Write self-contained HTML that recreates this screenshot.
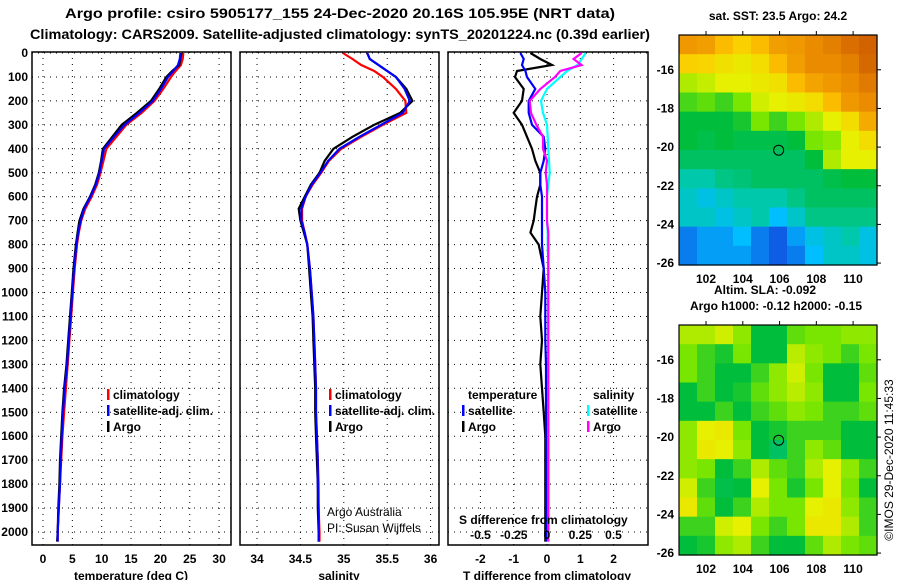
<!DOCTYPE html>
<html><head><meta charset="utf-8"><style>
html,body{margin:0;padding:0;background:#fff;}
svg{display:block;font-family:"Liberation Sans",sans-serif;}
.b{font-weight:bold;font-size:14px;}
.t{font-weight:bold;font-size:12px;}
</style></head><body>
<svg id="c" width="900" height="580" viewBox="0 0 900 580">
<text class="b" x="65" y="18" textLength="550" lengthAdjust="spacingAndGlyphs">Argo profile: csiro 5905177_155 24-Dec-2020 20.16S 105.95E (NRT data)</text>
<text class="b" x="30" y="39" textLength="620" lengthAdjust="spacingAndGlyphs">Climatology: CARS2009. Satellite-adjusted climatology: synTS_20201224.nc (0.39d earlier)</text>
<g id="g"></g>
</svg>
<script>
const depths=[0,25,50,75,100,150,200,250,300,350,400,450,500,550,600,650,700,750,800,900,1000,1100,1200,1300,1400,1500,1600,1700,1800,1900,2000,2040];
const tArgo=[23.6,23.4,23.2,22.0,21.0,19.8,18.4,16.0,13.4,11.8,10.2,9.9,9.5,8.9,8.0,6.9,6.2,5.9,5.6,5.2,4.9,4.6,4.3,4.0,3.6,3.3,3.1,2.9,2.8,2.6,2.5,2.4];
const tClim=[23.9,23.8,23.5,22.6,21.8,20.5,19.0,16.8,14.2,12.5,10.8,10.3,9.8,9.2,8.3,7.2,6.5,6.1,5.8,5.4,5.1,4.8,4.5,4.2,3.9,3.6,3.3,3.1,2.9,2.7,2.5,2.5];
const tSat=[23.4,23.3,23.0,22.2,21.3,20.1,18.7,16.4,13.9,12.1,10.4,10.0,9.6,9.0,8.1,7.0,6.4,6.0,5.7,5.3,5.0,4.7,4.4,4.1,3.7,3.4,3.2,3.0,2.9,2.7,2.5,2.5];
const sArgo=[35.27,35.3,35.4,35.5,35.6,35.72,35.79,35.65,35.35,35.1,34.88,34.78,34.72,34.62,34.55,34.48,34.5,34.54,34.58,34.6,34.62,34.64,34.65,34.66,34.67,34.67,34.68,34.69,34.7,34.7,34.71,34.71];
const sClim=[34.99,35.1,35.2,35.35,35.45,35.6,35.71,35.72,35.45,35.2,34.97,34.83,34.74,34.64,34.56,34.52,34.52,34.55,34.58,34.61,34.63,34.65,34.66,34.67,34.68,34.68,34.69,34.7,34.71,34.71,34.72,34.72];
const sSat=[35.27,35.3,35.4,35.5,35.6,35.7,35.76,35.68,35.43,35.18,34.95,34.82,34.73,34.63,34.56,34.51,34.51,34.55,34.58,34.61,34.63,34.65,34.66,34.67,34.68,34.68,34.69,34.7,34.7,34.71,34.71,34.71];
const dTArgo=[-0.5,-0.2,0.15,-0.9,-0.96,-0.7,-0.75,-1.0,-0.75,-0.6,-0.45,-0.35,-0.2,-0.2,-0.3,-0.35,-0.4,-0.5,-0.25,-0.1,-0.15,-0.2,-0.15,-0.2,-0.15,-0.1,-0.05,-0.05,-0.05,-0.05,-0.05,-0.05];
const dTSat=[-0.8,-0.7,-0.75,-0.65,-0.6,-0.35,-0.55,-0.55,-0.45,-0.1,-0.05,-0.1,-0.2,-0.2,-0.15,-0.15,-0.15,-0.15,-0.15,-0.1,-0.05,-0.05,-0.05,-0.03,-0.03,-0.03,-0.03,-0.02,-0.02,-0.02,-0.02,-0.02];
const dSSat=[0.29,0.26,0.23,0.15,0.1,0,-0.045,-0.03,0,0.005,0.01,0.015,0.02,0.01,0,0,0,0.005,0.005,0.01,0.01,0.01,0.01,0.01,0.01,0.01,0.01,0.01,0.01,0.01,0.01,0.01];
const dSArgo=[0.26,0.2,0.26,0.1,0.06,-0.05,-0.13,-0.12,-0.08,-0.03,-0.03,0,-0.01,0,0,0,0,0.01,0.01,0.01,0.01,0.01,0.01,0.01,0.01,0.01,0.01,0.01,0.01,0.01,0.01,0.01];
const depthTicks=[0,100,200,300,400,500,600,700,800,900,1000,1100,1200,1300,1400,1500,1600,1700,1800,1900,2000];
const tTicks=[0,5,10,15,20,25,30];
const sTicks=[34,34.5,35,35.5,36];
const dTTicks=[-2,-1,0,1,2];
const dSTicks=["-0.5","-0.25","0","0.25","0.5"];
const latTicks=[-16,-18,-20,-22,-24,-26];
const lonTicks=[102,104,106,108,110];
const sstGrid=[
[0.88,0.87,0.82,0.78,0.82,0.87,0.88,0.9,0.92,0.95,0.97],
[0.78,0.77,0.74,0.72,0.75,0.82,0.87,0.9,0.9,0.92,0.96],
[0.65,0.67,0.7,0.7,0.72,0.74,0.82,0.86,0.88,0.9,0.93],
[0.56,0.58,0.55,0.6,0.68,0.7,0.72,0.75,0.82,0.88,0.9],
[0.5,0.5,0.5,0.52,0.6,0.55,0.6,0.65,0.7,0.75,0.85],
[0.5,0.48,0.5,0.48,0.48,0.48,0.5,0.6,0.62,0.7,0.75],
[0.45,0.45,0.45,0.45,0.45,0.45,0.45,0.5,0.65,0.7,0.7],
[0.35,0.35,0.4,0.42,0.45,0.45,0.45,0.45,0.48,0.5,0.5],
[0.3,0.25,0.3,0.35,0.35,0.35,0.4,0.45,0.45,0.45,0.45],
[0.3,0.3,0.25,0.3,0.35,0.2,0.3,0.4,0.4,0.4,0.4],
[0.1,0.15,0.15,0.2,0.1,0.05,0.15,0.25,0.3,0.35,0.25],
[0.1,0.15,0.15,0.15,0.1,0.05,0.1,0.2,0.3,0.3,0.25]];
const slaGrid=[
[0.65,0.65,0.68,0.62,0.5,0.5,0.58,0.6,0.6,0.62,0.62],
[0.6,0.55,0.52,0.6,0.5,0.5,0.66,0.62,0.6,0.55,0.6],
[0.6,0.55,0.5,0.5,0.55,0.62,0.68,0.6,0.5,0.5,0.58],
[0.5,0.55,0.5,0.52,0.58,0.62,0.66,0.62,0.5,0.5,0.6],
[0.5,0.5,0.55,0.5,0.55,0.58,0.62,0.6,0.55,0.55,0.58],
[0.62,0.7,0.72,0.6,0.5,0.52,0.55,0.55,0.55,0.5,0.5],
[0.62,0.72,0.7,0.62,0.5,0.45,0.55,0.62,0.58,0.5,0.5],
[0.62,0.6,0.5,0.55,0.65,0.58,0.55,0.65,0.7,0.62,0.55],
[0.68,0.55,0.48,0.5,0.7,0.6,0.52,0.6,0.7,0.6,0.5],
[0.72,0.58,0.5,0.55,0.65,0.6,0.6,0.7,0.72,0.62,0.55],
[0.55,0.55,0.68,0.7,0.6,0.55,0.6,0.72,0.72,0.65,0.55],
[0.5,0.52,0.62,0.65,0.55,0.5,0.5,0.58,0.65,0.6,0.58]];
const argoLon=105.95, argoLat=-20.16;

const NS="http://www.w3.org/2000/svg";
const G=document.getElementById('g');
function mk(tag,attrs,parent){const e=document.createElementNS(NS,tag);for(const k in attrs)e.setAttribute(k,attrs[k]);(parent||G).appendChild(e);return e;}
const yD=d=>53+d*0.2395;
const xT=v=>43+v*5.87;
const xS=v=>257+(v-34)*86.8;
const xDT=v=>547+v*33.3;
const xDS=v=>547+v*133;
const TOP=52,BOT=545;
const panels=[{l:32,r:231,name:'temperature-panel'},{l:240,r:439,name:'salinity-panel'},{l:448,r:648,name:'difference-panel'}];
panels.forEach((p,i)=>{
  const pg=mk('g',{});
  
  
  depthTicks.forEach(d=>{const ln=mk('line',{x1:p.l,x2:p.r,y1:yD(d),y2:yD(d),stroke:'#000','stroke-width':1,'stroke-dasharray':'1 5'},pg);
    });
  const vx=i==0?tTicks.map(xT):i==1?sTicks.map(xS):dTTicks.map(xDT);
  vx.forEach(x=>{const ln=mk('line',{x1:x,x2:x,y1:TOP,y2:BOT,stroke:'#000','stroke-width':1,'stroke-dasharray':'1 5'},pg);
    });
  const fr=mk('rect',{x:p.l,y:TOP,width:p.r-p.l,height:BOT-TOP,fill:'none',stroke:'#000','stroke-width':1.5},pg);
  
});
depthTicks.forEach(d=>{const t=mk('text',{x:28,y:yD(d)+4,'text-anchor':'end',class:'t'});t.textContent=d;
  });
function xlab(ticks,fx){ticks.forEach(v=>{const t=mk('text',{x:fx(v),y:563,'text-anchor':'middle',class:'t'});t.textContent=v;
  });}
xlab(tTicks,xT);xlab(sTicks,xS);xlab(dTTicks,xDT);
[['temperature (deg C)',131,'temperature-axis-title'],['salinity',339,'salinity-axis-title'],['T difference from climatology',547,'t-difference-axis-title']].forEach(a=>{
  const t=mk('text',{x:a[1],y:580,'text-anchor':'middle',class:'t'});t.textContent=a[0];
  });
function line(xs,fx,col,name){const pts=xs.map((v,i)=>fx(v).toFixed(1)+','+yD(depths[i]).toFixed(1)).join(' ');
  const pl=mk('polyline',{points:pts,fill:'none',stroke:col,'stroke-width':2.2});
  }
line(tClim,xT,'#f00','temperature-climatology-line');line(tArgo,xT,'#000','temperature-argo-line');line(tSat,xT,'#0000ff','temperature-satellite-line');
line(sClim,xS,'#f00','salinity-climatology-line');line(sArgo,xS,'#000','salinity-argo-line');line(sSat,xS,'#0000ff','salinity-satellite-line');
line(dTArgo,xDT,'#000','t-diff-argo-line');line(dTSat,xDT,'#0000ff','t-diff-satellite-line');
line(dSSat,xDS,'#00ffff','s-diff-satellite-line');line(dSArgo,xDS,'#ff00ff','s-diff-argo-line');
function leg(x,y,col,txt,name){if(col){const r=mk('rect',{x:x-6,y:y-10,width:2.5,height:11,fill:col});}
  const t=mk('text',{x:x,y:y,class:'t'});t.textContent=txt;}
[[113,'climatology','#f00'],[113,'satellite-adj. clim.','#0000ff'],[113,'Argo','#000']].forEach((a,i)=>leg(a[0],399+i*16,a[2],a[1],'legend-t-'+i));
[[335,'climatology','#f00'],[335,'satellite-adj. clim.','#0000ff'],[335,'Argo','#000']].forEach((a,i)=>leg(a[0],399+i*16,a[2],a[1],'legend-s-'+i));
leg(468,399,null,'temperature','legend-temperature-header');
leg(468,415,'#0000ff','satellite','legend-temperature-satellite');
leg(468,431,'#000','Argo','legend-temperature-argo');
leg(593,399,null,'salinity','legend-salinity-header');
leg(593,415,'#00ffff','satellite','legend-salinity-satellite');
leg(593,431,'#ff00ff','Argo','legend-salinity-argo');
leg(459,524,null,'S difference from climatology','s-difference-axis-title');
dSTicks.forEach(v=>{const t=mk('text',{x:xDS(parseFloat(v)),y:539,'text-anchor':'middle',class:'t'});t.textContent=v;
  });
[['Argo Australia',516],['PI: Susan Wijffels',532]].forEach(a=>{const t=mk('text',{x:327,y:a[1],'font-size':12});t.textContent=a[0];
  });
const stops=[[0,[20,60,220]],[0.2,[0,190,255]],[0.35,[0,200,170]],[0.5,[0,190,60]],[0.6,[120,230,0]],[0.7,[230,240,0]],[0.8,[255,200,0]],[0.9,[235,140,0]],[1,[200,80,0]]];
function cmap(v){for(let i=1;i<stops.length;i++){if(v<=stops[i][0]){const a=stops[i-1],b=stops[i],f=(v-a[0])/(b[0]-a[0]);
  return 'rgb('+a[1].map((c,k)=>Math.round(c+(b[1][k]-c)*f)).join(',')+')';}}return 'rgb(200,80,0)';}
const ML=679,MR=877,lonL=100.53,lonR=111.3;
const xLon=l=>ML+(l-lonL)*(MR-ML)/(lonR-lonL);
function map(grid,top,name){
  const bot=top+230;const latTop=-14.2,latBot=-26.1;
  const yLat=l=>top+(latTop-l)*(bot-top)/(latTop-latBot);
  const mg=mk('g',{});
  const R=grid.length,C=grid[0].length,cw=(MR-ML)/C,ch=(bot-top)/R;
  grid.forEach((row,r)=>row.forEach((v,c)=>{const e=mk('rect',{x:ML+c*cw,y:top+r*ch,width:cw+0.6,height:ch+0.6,fill:cmap(v)},mg);
    }));
  const fr=mk('rect',{x:ML,y:top,width:MR-ML,height:bot-top,fill:'none',stroke:'#000','stroke-width':1.2},mg);
  
  latTicks.forEach(l=>{mk('line',{x1:MR,x2:MR+4,y1:yLat(l),y2:yLat(l),stroke:'#000'},mg);
    const t=mk('text',{x:ML-5,y:yLat(l)+4,'text-anchor':'end',class:'t'},mg);t.textContent=l;});
  lonTicks.forEach(l=>{mk('line',{x1:xLon(l),x2:xLon(l),y1:top-4,y2:top,stroke:'#000'},mg);
    const t=mk('text',{x:xLon(l),y:bot+18,'text-anchor':'middle',class:'t'},mg);t.textContent=l;});
  const ci=mk('circle',{cx:xLon(argoLon),cy:yLat(argoLat),r:5,fill:'none',stroke:'#000','stroke-width':1},mg);
  
}
map(sstGrid,35,'sst-map');map(slaGrid,325,'sla-map');
[['sat. SST: 23.5 Argo: 24.2',778,20,'sst-map-title'],['Altim. SLA: -0.092',765,294,'sla-map-title'],['Argo h1000: -0.12 h2000: -0.15',776,310,'argo-height-title']].forEach(a=>{
  const t=mk('text',{x:a[1],y:a[2],'text-anchor':'middle',class:'t'});t.textContent=a[0];});
const cp=mk('text',{x:0,y:0,'font-size':12,transform:'translate(893,460) rotate(-90)','text-anchor':'middle'});cp.textContent='©IMOS 29-Dec-2020 11:45:33';

</script>
</body></html>
